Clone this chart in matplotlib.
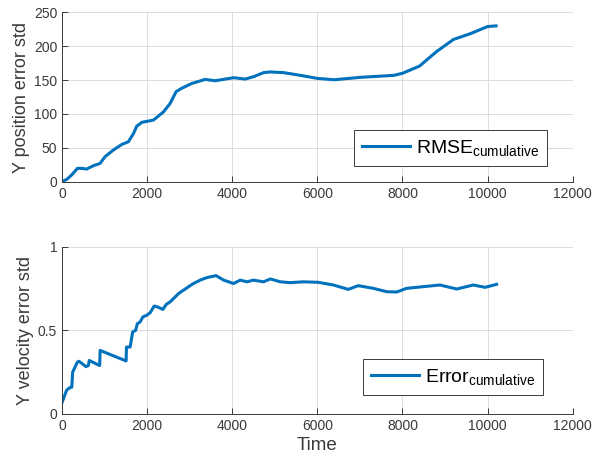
import matplotlib.pyplot as plt

plt.rcParams["font.family"] = ["Liberation Sans", "DejaVu Sans"]
plt.rcParams["mathtext.default"] = "regular"

# Y position error std (cumulative RMSE)
pos_t = [0, 110, 228, 361, 463, 580, 737, 894, 1012, 1208, 1404, 1560, 1678, 1757,
         1875, 2149, 2384, 2541, 2682, 2815, 3050, 3364, 3600, 4031, 4306, 4502,
         4737, 4894, 5208, 5600, 6000, 6400, 7000, 7800, 8000, 8400, 8800, 9200,
         9600, 10000, 10200]
pos_std = [0, 3.4, 10, 19.7, 19.7, 18.7, 23.6, 27, 37, 46.8, 55, 59, 71, 82,
           87.6, 91, 103, 115.6, 133, 138, 145, 151, 149, 153.5, 151.5, 155,
           161, 162, 161, 157, 152.5, 150.5, 154, 157, 160, 170.6, 192, 210,
           218.6, 229, 230]

# Y velocity error std (cumulative), sawtooth shape
vel_t = [0, 110, 200, 230, 250, 360, 400, 565, 620, 640, 880, 885, 895, 1506,
         1515, 1580, 1600, 1660, 1730, 1770, 1835, 1900, 1990, 2070, 2165, 2245,
         2370, 2450, 2540, 2620, 2740, 2855, 2970, 3090, 3245, 3400, 3620, 3800,
         4030, 4190, 4345, 4500, 4735, 4895, 5130, 5357, 5670, 6022, 6375, 6727,
         6962, 7315, 7628, 7863, 8098, 8490, 8882, 9274, 9666, 9940, 10214]
vel_std = [0.068, 0.143, 0.16, 0.16, 0.25, 0.31, 0.315, 0.283, 0.29, 0.32, 0.29,
           0.29, 0.38, 0.317, 0.40, 0.40, 0.40, 0.49, 0.50, 0.54, 0.55, 0.58,
           0.59, 0.605, 0.645, 0.64, 0.625, 0.655, 0.67, 0.69, 0.72, 0.74, 0.76,
           0.78, 0.80, 0.815, 0.827, 0.80, 0.78, 0.80, 0.79, 0.80, 0.79, 0.807,
           0.79, 0.785, 0.79, 0.787, 0.771, 0.745, 0.767, 0.751, 0.731, 0.729,
           0.751, 0.761, 0.771, 0.747, 0.771, 0.757, 0.775]

blue = "#0072BD"
tick_col = "#3a3a3a"

fig = plt.figure(figsize=(5.94, 4.65), dpi=100)
ax1 = fig.add_axes([0.1044, 0.6092, 0.8597, 0.3643])
ax2 = fig.add_axes([0.1044, 0.1097, 0.8597, 0.3598])


def style(ax):
    ax.set_xlim(0, 12000)
    ax.set_xticks([0, 2000, 4000, 6000, 8000, 10000, 12000])
    ax.grid(True, color="#dcdcdc", linewidth=0.7)
    ax.set_axisbelow(True)
    for s in ("top", "right"):
        ax.spines[s].set_visible(False)
    for s in ("left", "bottom"):
        ax.spines[s].set_color(tick_col)
        ax.spines[s].set_linewidth(0.7)
    ax.tick_params(direction="in", length=4, width=0.7, colors=tick_col,
                   labelsize=10, top=False, right=False)


ax1.plot(pos_t, pos_std, color=blue, linewidth=2.2)
style(ax1)
ax1.set_ylim(0, 250)
ax1.set_yticks([0, 50, 100, 150, 200, 250])
ax1.set_ylabel("Y position error std", fontsize=13, color=tick_col, labelpad=3)
leg1 = ax1.legend(["RMSE$_{cumulative}$"], loc="upper right",
                  bbox_to_anchor=(0.9497, 0.305), borderaxespad=0, fontsize=14,
                  fancybox=False, framealpha=1, edgecolor=tick_col,
                  handlelength=2.5, handletextpad=0.3, borderpad=0.4)
leg1.get_frame().set_linewidth(0.7)

ax2.plot(vel_t, vel_std, color=blue, linewidth=2.2)
style(ax2)
ax2.set_ylim(0, 1)
ax2.set_yticks([0, 0.5, 1])
ax2.set_yticklabels(["0", "0.5", "1"])
ax2.set_ylabel("Y velocity error std", fontsize=13, color=tick_col, labelpad=3)
ax2.set_xlabel("Time", fontsize=13.5, color=tick_col, labelpad=3)
leg2 = ax2.legend(["Error$_{cumulative}$"], loc="upper right",
                  bbox_to_anchor=(0.942, 0.329), borderaxespad=0, fontsize=14,
                  fancybox=False, framealpha=1, edgecolor=tick_col,
                  handlelength=2.5, handletextpad=0.3, borderpad=0.4)
leg2.get_frame().set_linewidth(0.7)

fig.savefig("out.png", dpi=100)
